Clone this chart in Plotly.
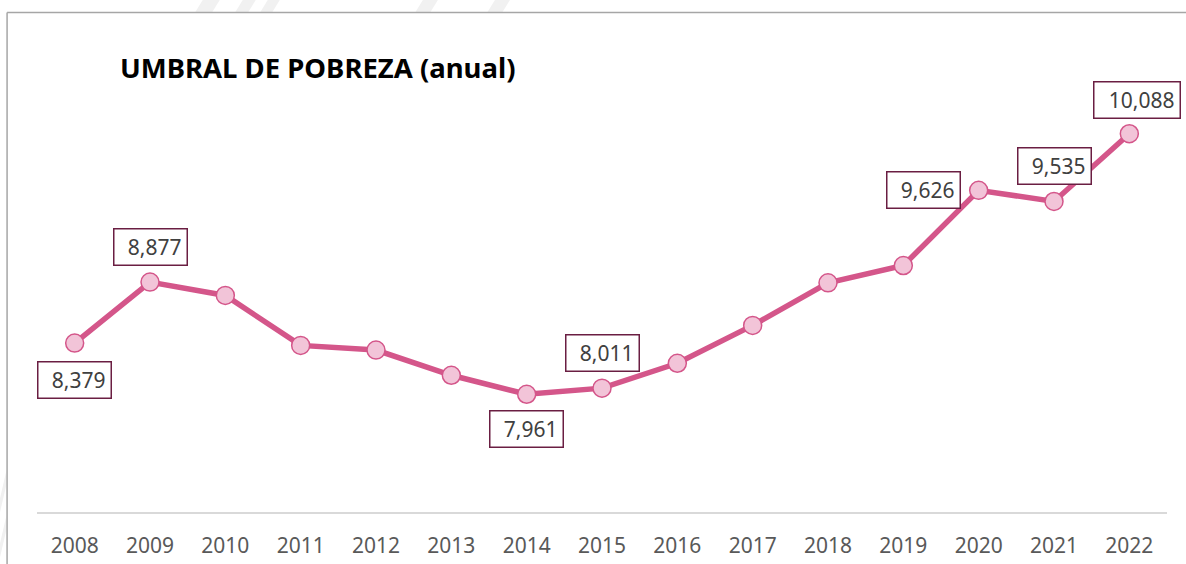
import plotly.graph_objects as go

years = [2008, 2009, 2010, 2011, 2012, 2013, 2014, 2015, 2016, 2017, 2018, 2019, 2020, 2021, 2022]
values = [8379, 8877, 8768, 8360, 8322, 8116, 7961, 8011, 8214, 8523, 8871, 9012, 9626, 9535, 10088]
tick_labels = [str(y) for y in years]
title_text = "UMBRAL DE POBREZA (anual)"

# labelled points: year -> (xshift, yshift, box width)
label_pos = {
    2008: (0, -37, 62),
    2009: (0, 35, 62),
    2014: (0, -35, 62),
    2015: (0, 35, 62),
    2020: (-55, 0, 62),
    2021: (0, 35, 62),
    2022: (8, 34, 75),
}

W, H = 1186, 564
L, R, T, B = 37.4, 19.4, 22, 52
pw, ph = W - L - R, H - T - B

def px(x):
    return (x - L) / pw

def py(y):
    return (H - B - y) / ph

fig = go.Figure()
fig.add_trace(go.Scatter(
    x=years, y=values, mode="lines+markers",
    line=dict(color="#D4568A", width=5.5),
    marker=dict(size=18, color="#F2C4D8", line=dict(color="#D4568A", width=1.5)),
    hoverinfo="x+y", showlegend=False,
))

annotations = []
for yr, v in zip(years, values):
    if yr in label_pos:
        xs, ys, w = label_pos[yr]
        annotations.append(dict(
            x=yr, y=v, xref="x", yref="y", text=f"{v:,}", showarrow=False,
            xshift=xs, yshift=ys, width=w, height=25, align="right",
            bordercolor="#6A1E42", borderwidth=1.5, borderpad=5, bgcolor="#FFFFFF",
            font=dict(family="Noto Sans", size=21, color="#404040"),
        ))

annotations.append(dict(
    x=px(118), y=py(67), xref="paper", yref="paper", text=f"<b>{title_text}</b>",
    showarrow=False, xanchor="left", yanchor="middle",
    font=dict(family="Noto Sans", size=27.5, color="#000000"),
))

shapes = []
# faint diagonal background stripes
stripes = [(195, 17), (235, 13), (260, 12), (415, 15), (487, 15)]
for sx, sw in stripes:
    x0b, x1b = sx, sx + sw
    shift = 8
    path = (f"M {px(x0b)} {py(13)} L {px(x1b)} {py(13)} "
            f"L {px(x1b + shift)} {py(0)} L {px(x0b + shift)} {py(0)} Z")
    shapes.append(dict(type="path", xref="paper", yref="paper", path=path,
                       fillcolor="#F1F1F1", line=dict(width=0), layer="below"))
for y0 in [470, 515]:
    path = (f"M {px(0)} {py(y0 + 30)} L {px(7)} {py(y0)} L {px(7)} {py(y0 + 14)} L {px(0)} {py(y0 + 44)} Z")
    shapes.append(dict(type="path", xref="paper", yref="paper", path=path,
                       fillcolor="#F1F1F1", line=dict(width=0), layer="below"))

# frame lines
shapes.append(dict(type="line", xref="paper", yref="paper",
                   x0=px(7.5), x1=px(W + 5), y0=py(12.5), y1=py(12.5),
                   line=dict(color="#A6A6A6", width=1.5)))
shapes.append(dict(type="line", xref="paper", yref="paper",
                   x0=px(7.5), x1=px(7.5), y0=py(12.5), y1=py(H + 5),
                   line=dict(color="#A6A6A6", width=1.5)))

fig.update_layout(
    width=W, height=H,
    margin=dict(l=L, r=R, t=T, b=B, autoexpand=False),
    paper_bgcolor="#FFFFFF", plot_bgcolor="#FFFFFF",
    annotations=annotations, shapes=shapes,
    xaxis=dict(
        range=[2007.5, 2022.5], tickmode="array", tickvals=years, ticktext=tick_labels,
        showgrid=False, zeroline=False, showline=True, linecolor="#D9D9D9", linewidth=1.5,
        ticks="outside", ticklen=14, tickcolor="rgba(0,0,0,0)", automargin=False,
        tickfont=dict(family="Noto Sans", size=21, color="#595959"),
    ),
    yaxis=dict(range=[7000, 11000], visible=False, showgrid=False, zeroline=False,
               automargin=False),
    font=dict(family="Noto Sans"),
)

fig.write_html("out.html", config={"displayModeBar": False},
               post_script="document.body.style.margin='0';document.body.style.overflow='hidden';")
